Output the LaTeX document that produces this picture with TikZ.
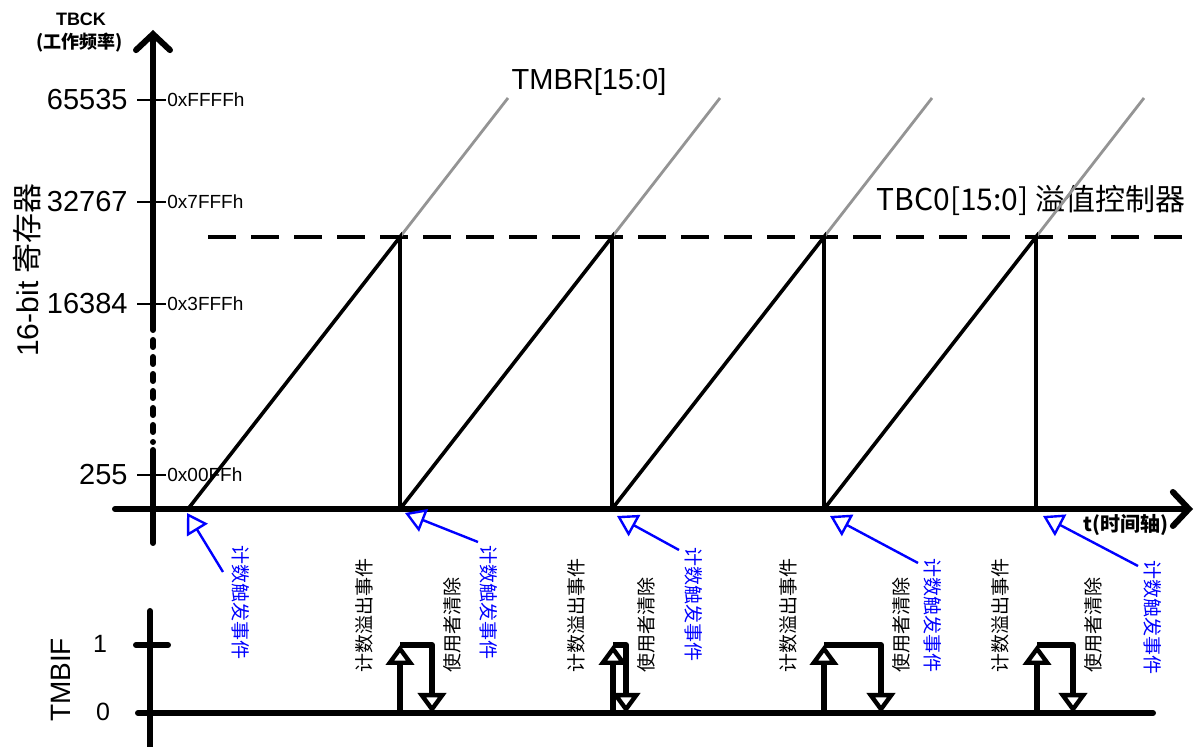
\documentclass[tikz,border=0pt]{standalone}
\usepackage{fontspec}
\setmainfont{Liberation Sans}
\newfontfamily\cjk{Noto Sans CJK SC}
\usetikzlibrary{arrows.meta}

\tikzset{
  axis/.style={line width=3pt, line cap=round},
  ramp/.style={line width=1.8pt},
  ext/.style={line width=1.4pt, color=black!42},
  tickmark/.style={line width=0.7pt},
  valnum/.style={anchor=east, inner sep=0pt, font=\fontsize{14.5}{16}\selectfont},
  hexnum/.style={anchor=west, inner sep=0pt, font=\fontsize{9.5}{11}\selectfont},
  trig/.style={blue, line width=1.2pt, -{Triangle[open, length=10pt, width=12pt]}},
  triglbl/.style={blue, rotate=-90, anchor=west, inner sep=0pt, font=\cjk\fontsize{9.5}{11}\selectfont},
  evtlbl/.style={rotate=90, anchor=west, inner sep=0pt, font=\cjk\fontsize{9.5}{11}\selectfont},
  flag/.style={line width=3pt, line join=round, -{Triangle[open, length=10pt, width=14pt, line width=2.2pt]}},
}

\begin{document}
\begin{tikzpicture}[x=0.5pt, y=-0.5pt]
\useasboundingbox (0,0) rectangle (1196,747);

% counter axis
\draw[axis, -{Straight Barb[length=8pt, width=17pt, line cap=round]}] (153,330) -- (153,30);
\draw[axis, dash pattern=on 3.5pt off 5pt] (153,340) -- (153,442);
\draw[axis] (153,450) -- (153,543);
\draw[axis, -{Straight Barb[length=8pt, width=17pt, line cap=round]}] (115,509) -- (1193,509);

\node[font=\bfseries\fontsize{9}{10}\selectfont] (tbck) at (81,19) {TBCK};
\node[font=\cjk\bfseries\fontsize{9}{10}\selectfont] (freq) at (80,43) {(工作频率)};
\node[rotate=90, font=\fontsize{15}{17}\selectfont] (reg) at (27,270) {16-bit {\cjk 寄存器}};
\node[font=\cjk\bfseries\fontsize{10}{12}\selectfont] (time) at (1126,525) {t(时间轴)};

\foreach \v/\h/\y in {65535/FFFF/100, 32767/7FFF/202, 16384/3FFF/304, 255/00FF/475}{
  \draw[tickmark] (137,\y) -- (166,\y);
  \node[valnum] (val\v) at (128,\y) {\v};
  \node[hexnum] (hex\v) at (167,\y) {0x\h h};
}

% limit line
\draw[line width=2pt, dash pattern=on 14pt off 7.5pt] (208,237) -- (1185,237);
\node[font=\fontsize{14.5}{16}\selectfont] (tmbr) at (589,82) {TMBR[15:0]};
\node[font=\cjk\fontsize{15}{17}\selectfont] (tbc) at (1031,200) {TBC0[15:0] 溢值控制器};

% sawtooth
\foreach \x in {188,400,612,824}{
  \draw[ext] (\x+212,237) -- (\x+320,98);
  \draw[ramp] (\x,509) -- (\x+212,237) -- (\x+212,509);
  \node[evtlbl] at (\x+176,673) {计数溢出事件};
}

\foreach \lx/\ly/\sx/\sy/\tx/\ty [count=\i] in
  {241/545/223/572/187/513, 489/545/478/542/405/513, 694/547/679/550/617/516,
   933/558/918/563/830/516, 1153/560/1138/566/1043/516}{
  \node[triglbl] (trig\i) at (\lx,\ly) {计数触发事件};
  \coordinate (src\i) at (\sx,\sy);
  \coordinate (tip\i) at (\tx,\ty);
  \draw[trig] (src\i) -- (tip\i);
}

% flag
\draw[axis] (150,611) -- (150,747);
\draw[axis] (136,645) -- (168,645);
\draw[axis] (138,713) -- (1153,713);
\node[rotate=90, font=\fontsize{14}{16}\selectfont] (tmbif) at (61,680) {TMBIF};
\node[font=\fontsize{12.5}{14}\selectfont] (one) at (100,644) {1};
\node[font=\fontsize{12.5}{14}\selectfont] (zero) at (103,712) {0};

\foreach \u/\d in {400/432, 613/626, 824/881, 1037/1073}{
  \draw[flag] (\u,713) -- (\u,645);
  \draw[flag] (\u,645) -- (\d,645) -- (\d,713);
  \node[evtlbl] at (\d+20,673) {使用者清除};
}
\end{tikzpicture}
\end{document}
